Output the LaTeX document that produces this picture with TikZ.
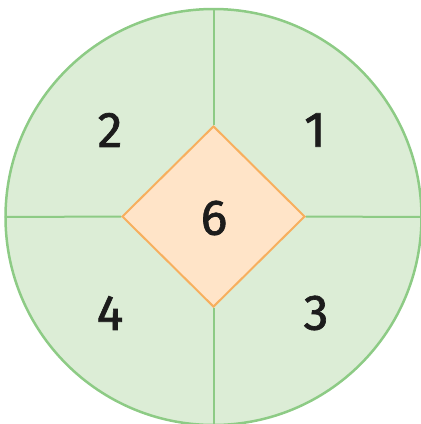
\documentclass[tikz,border=0pt]{standalone}
\usepackage{fontspec}
\setmainfont{Fira Sans}
\newfontfamily\numfont[FakeBold=1.3]{Fira Sans}
\usetikzlibrary{shapes.geometric}
\definecolor{sectfill}{HTML}{DCEDD6}
\definecolor{sectline}{HTML}{8DCB85}
\definecolor{diafill}{HTML}{FFE4C8}
\definecolor{dialine}{HTML}{F7AF5E}
\definecolor{numcol}{HTML}{1C1C1C}
\tikzset{
  num/.style={text=numcol,font=\numfont\fontsize{50}{50}\selectfont,inner sep=0pt},
  divider/.style={draw=sectline,line width=2pt},
}
\begin{document}
\begin{tikzpicture}[x=1pt,y=-1pt]
\useasboundingbox (0,0) rectangle (421,424);
\clip (0,0) rectangle (421,424);
\fill[sectfill] (213.5,217) circle (208);
\draw[sectline,line width=2.5pt] (213.5,217) circle (208);
\coordinate (top) at (213.5,9);
\coordinate (bot) at (213.5,425);
\coordinate (lft) at (5.5,217);
\coordinate (rgt) at (421.5,217);
\node[diamond,draw=dialine,fill=diafill,line width=2pt,minimum width=183pt,minimum height=181pt,inner sep=0pt] (c) at (213.5,216.5) {};
\draw[divider] (top) -- (c.north);
\draw[divider] (c.south) -- (bot);
\draw[divider] (lft) -- (c.west);
\draw[divider] (c.east) -- (rgt);
\node[num] (n6) at (214,218) {6};
\node[num] (n2) at (110,130) {2};
\node[num] (n1) at (315,130) {1};
\node[num] (n4) at (110,313) {4};
\node[num] (n3) at (316,313) {3};
\end{tikzpicture}
\end{document}
